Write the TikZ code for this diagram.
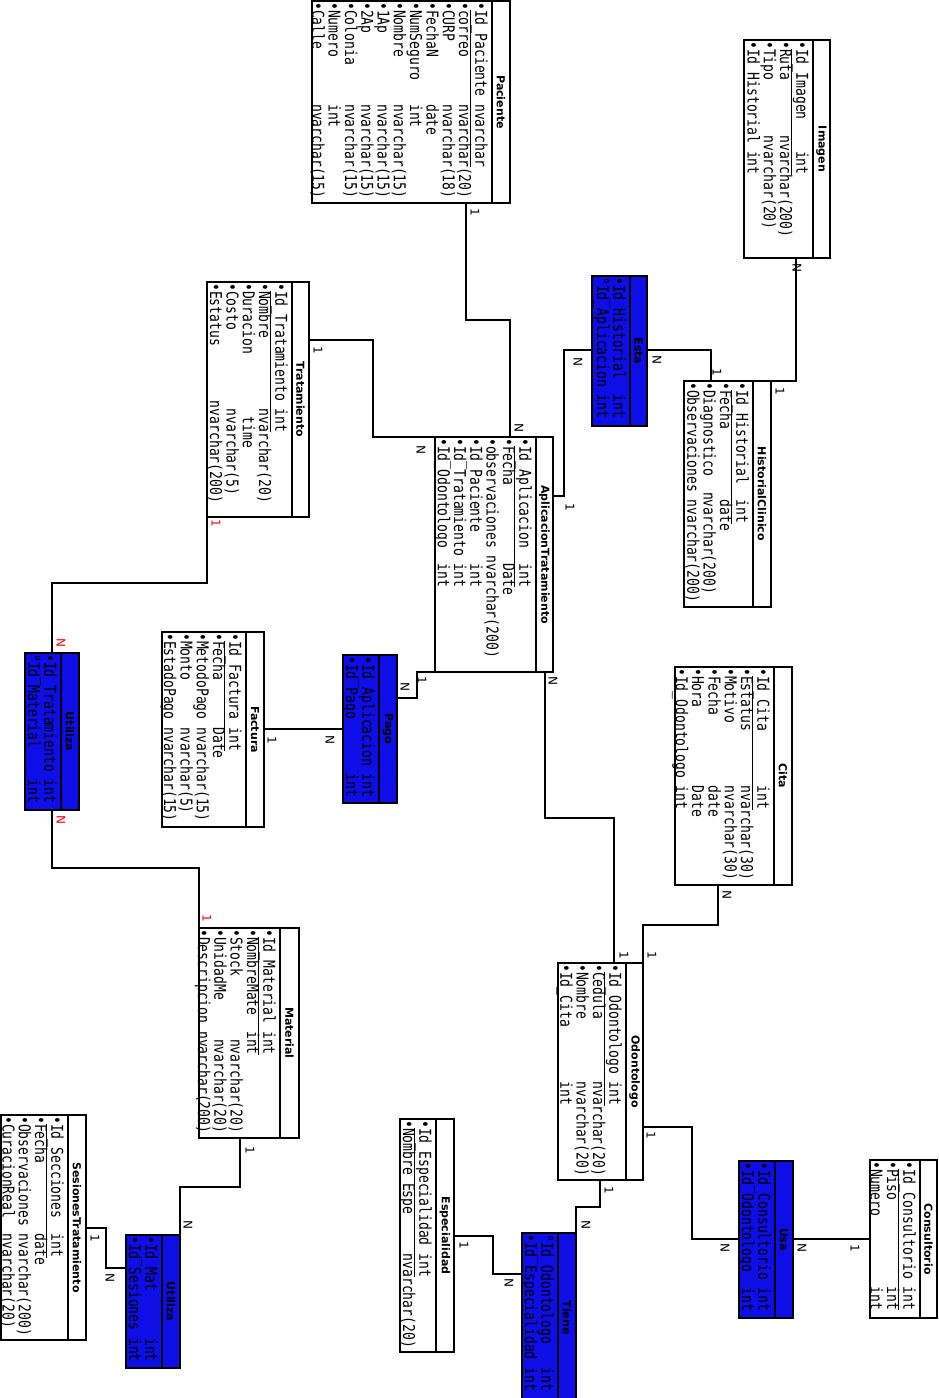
\documentclass[tikz,border=0pt]{standalone}
\usepackage{fontspec}
\newfontfamily\monof[FakeStretch=0.8]{DejaVu Sans Mono}
\newfontfamily\titf{DejaVu Sans}
\newlength\cw
\settowidth{\cw}{\monof\fontsize{16.3}{16.3}\selectfont M}
\newcommand\attrfont{\monof\fontsize{16.3}{16.3}\selectfont\lineskiplimit=-30pt\relax\lineskip=0pt\relax}
\definecolor{entblue}{RGB}{14,14,230}
\newcommand\Rw[4]{#1\makebox[#3\cw][l]{#2}#4}
\newcommand\Ru[4]{#1\underline{\makebox[#3\cw][l]{#2}#4}}
\newcommand\ent[8]{%
  \node[ebox, fill=#7, minimum width={(#4-#2)*1pt}, minimum height={(#5-#3)*1pt}] (#1) at (#2,#3) {};
  \draw[ln] (#6,#3) -- (#6,#5);
  \node[ttl] (#1-t) at ({(#6+#4)/2},{(#3+#5)/2}) {#8};
}
\begin{document}
\begin{tikzpicture}[x=1pt,y=-1pt,
  ebox/.style={draw, line width=2pt, inner sep=0pt, outer sep=0pt, anchor=north west},
  ln/.style={line width=2pt},
  ttl/.style={rotate=-90, font=\titf\bfseries\fontsize{11}{11}\selectfont, inner sep=0pt},
  attr/.style={rotate=-90, anchor=north west, inner sep=0pt, align=left, font=\attrfont},
  conn/.style={line width=2pt},
  card/.style={rotate=-90, font=\titf\fontsize{12}{12}\selectfont, inner sep=0pt},
  rcard/.style={card, text=red}]
\useasboundingbox (0,0) rectangle (938,1398);
\fill[white] (0,0) rectangle (938,1398);

% entities
\ent{pac}{312}{1}{510}{203}{492}{white}{Paciente}
\ent{img}{744}{40}{830}{258}{813}{white}{Imagen}
\ent{esta}{592}{276}{647}{426}{630}{entblue}{Esta}
\ent{hist}{684}{381}{771}{607}{753}{white}{HistorialClinico}
\ent{tra}{207}{282}{309}{517}{292}{white}{Tratamiento}
\ent{at}{435}{437}{553}{672}{536}{white}{AplicacionTratamiento}
\ent{pago}{343}{655}{397}{803}{379}{entblue}{Pago}
\ent{fac}{162}{632}{264}{827}{246}{white}{Factura}
\ent{cita}{675}{667}{792}{885}{774}{white}{Cita}
\ent{odo}{558}{963}{643}{1180}{626}{white}{Odontologo}
\ent{esp}{400}{1119}{454}{1352}{436}{white}{Especialidad}
\ent{tiene}{522}{1233}{576}{1402}{558}{entblue}{Tiene}
\ent{usa}{739}{1161}{793}{1318}{775}{entblue}{Usa}
\ent{cons}{870}{1160}{937}{1318}{920}{white}{Consultorio}
\ent{mat}{199}{928}{299}{1138}{280}{white}{Material}
\ent{util}{25}{653}{79}{810}{61}{entblue}{Utiliza}
\ent{utildos}{126}{1235}{180}{1368}{162}{entblue}{Utiliza}
\ent{ses}{1}{1115}{86}{1340}{68}{white}{SesionesTratamiento}

% attributes
\node[attr] (pac-a) at (488,2) {\Ru{•}{Id\_Paciente}{12}{nvarchar}\\
 \Rw{•}{correo}{12}{nvarchar(20)}\\
 \Rw{•}{CURP}{12}{nvarchar(18)}\\
 \Rw{•}{FechaN}{12}{date}\\
 \Rw{•}{NumSeguro}{12}{int}\\
 \Rw{•}{Nombre}{12}{nvarchar(15)}\\
 \Rw{•}{1Ap}{12}{nvarchar(15)}\\
 \Rw{•}{2Ap}{12}{nvarchar(15)}\\
 \Rw{•}{Colonia}{12}{nvarchar(15)}\\
 \Rw{•}{Numero}{12}{int}\\
 \Rw{•}{Calle}{12}{nvarchar(15)}};
\node[attr] (img-a) at (809,41) {\Ru{•}{Id\_Imagen}{13}{int}\\
 \Rw{•}{Ruta}{11}{nvarchar(200)}\\
 \Rw{•}{Tipo}{11}{nvarchar(20)}\\
 \Rw{•}{Id\_Historial}{13}{int}};
\node[attr] (esta-a) at (626,277) {\Rw{•}{Id\_Historial}{14}{int}\\
 \Rw{°}{Id\_Aplicacion}{14}{int}};
\node[attr] (hist-a) at (749,382) {\Ru{•}{Id\_Historial}{14}{int}\\
 \Rw{•}{Fecha}{14}{date}\\
 \Rw{•}{Diagnostico}{13}{nvarchar(200)}\\
 \Rw{•}{Observaciones}{14}{nvarchar(200)}};
\node[attr] (tra-a) at (288,283) {\Ru{•}{Id\_Tratamiento}{15}{int}\\
 \Rw{•}{Nombre}{15}{nvarchar(20)}\\
 \Rw{•}{Duracion}{16}{time}\\
 \Rw{•}{Costo}{15}{nvarchar(5)}\\
 \Rw{•}{Estatus}{14}{nvarchar(200)}};
\node[attr] (at-a) at (532,438) {\Ru{•}{Id\_Aplicacion}{15}{int}\\
 \Rw{•}{Fecha}{15}{Date}\\
 \Rw{•}{observaciones}{14}{nvarchar(200)}\\
 \Rw{•}{Id\_Paciente}{15}{int}\\
 \Rw{•}{Id\_Tratamiento}{15}{int}\\
 \Rw{•}{Id\_Odontologo}{15}{int}};
\node[attr] (pago-a) at (375,656) {\Rw{•}{Id\_Aplicacion}{14}{int}\\
 \Rw{•}{Id\_Pago}{14}{int}};
\node[attr] (fac-a) at (242,633) {\Ru{•}{Id\_Factura}{11}{int}\\
 \Rw{•}{Fecha}{11}{Date}\\
 \Rw{•}{MetodoPago}{11}{nvarchar(15)}\\
 \Rw{•}{Monto}{11}{nvarchar(5)}\\
 \Rw{•}{EstadoPago}{11}{nvarchar(15)}};
\node[attr] (cita-a) at (770,668) {\Ru{•}{Id\_Cita}{14}{int}\\
 \Rw{•}{Estatus}{14}{nvarchar(30)}\\
 \Rw{•}{Motivo}{14}{nvarchar(30)}\\
 \Rw{•}{Fecha}{14}{date}\\
 \Rw{•}{Hora}{14}{Date}\\
 \Rw{•}{Id\_Odontologo}{14}{int}};
\node[attr] (odo-a) at (622,964) {\Ru{•}{Id\_Odontologo}{14}{int}\\
 \Rw{•}{Cedula}{14}{nvarchar(20)}\\
 \Rw{•}{Nombre}{14}{nvarchar(20)}\\
 \Rw{•}{Id\_Cita}{14}{int}};
\node[attr] (esp-a) at (432,1120) {\Ru{•}{Id\_Especialidad}{16}{int}\\
 \Rw{•}{Nombre\_Espe}{16}{nvarchar(20)}};
\node[attr] (tiene-a) at (554,1234) {\Rw{°}{Id\_Odontologo}{16}{int}\\
 \Rw{•}{Id\_Especialidad}{16}{int}};
\node[attr] (usa-a) at (771,1162) {\Rw{•}{Id\_Consultorio}{15}{int}\\
 \Rw{•}{Id\_Odontologo}{15}{int}};
\node[attr] (cons-a) at (916,1161) {\Ru{•}{Id\_Consultorio}{15}{int}\\
 \Rw{•}{Piso}{15}{int}\\
 \Rw{•}{Numero}{15}{int}};
\node[attr] (mat-a) at (276,929) {\Ru{•}{Id\_Material}{12}{int}\\
 \Rw{•}{NombreMate}{12}{int}\\
 \Rw{•}{Stock}{13}{nvarchar(20)}\\
 \Rw{•}{UnidadMe}{13}{nvarchar(20)}\\
 \Rw{•}{Descripcion}{12}{nvarchar(200)}};
\node[attr] (util-a) at (57,654) {\Rw{•}{Id\_Tratamiento}{15}{int}\\
 \Rw{°}{Id\_Material}{15}{int}};
\node[attr] (utildos-a) at (158,1236) {\Rw{•}{Id\_Mat}{12}{int}\\
 \Rw{•}{Id\_Sesiones}{12}{int}};
\node[attr] (ses-a) at (64,1116) {\Ru{•}{Id\_Secciones}{14}{int}\\
 \Rw{•}{Fecha}{14}{date}\\
 \Rw{•}{Observaciones}{14}{nvarchar(200)}\\
 \Rw{•}{CuracionReal}{14}{nvarchar(20)}};

% connectors
\draw[conn] (pac.south -| 466,0) |- (510,320) -- (at.north -| 510,0);
\draw[conn] (tra.east |- 0,340) -| (373,437) -- (at.north west);
\draw[conn] (at.east |- 0,496) -| (564,350) -- (esta.west |- 0,350);
\draw[conn] (esta.east |- 0,350) -| (hist.north -| 711,0);
\draw[conn] (img.south -| 796,0) |- (hist.north east);
\draw[conn] (pago.east |- 0,698) -| (417,672) -- (at.south west);
\draw[conn] (fac.east |- 0,729) -- (pago.west |- 0,729);
\draw[conn] (at.south -| 545,0) |- (614,818) -- (odo.north -| 614,0);
\draw[conn] (cita.south -| 718,0) |- (643,925) -- (odo.north east);
\draw[conn] (odo.east |- 0,1127) -| (692,1239) -- (usa.west |- 0,1239);
\draw[conn] (usa.east |- 0,1239) -- (cons.west |- 0,1239);
\draw[conn] (odo.south -| 600,0) |- (576,1207) -- (tiene.north east);
\draw[conn] (esp.east |- 0,1236) -| (493,1274) -- (tiene.west |- 0,1274);
\draw[conn] (tra.south west) |- (52,583) -- (util.north -| 52,0);
\draw[conn] (util.south -| 52,0) |- (199,868) -- (mat.north west);
\draw[conn] (mat.south -| 240,0) |- (180,1187) -- (utildos.north east);
\draw[conn] (ses.east |- 0,1228) -| (106,1268) -- (utildos.west |- 0,1268);

% cardinalities
\node[card] (k1) at (475,212) {1};
\node[card] (k2) at (519,428) {N};
\node[card] (k3) at (318,350) {1};
\node[card] (k4) at (421,450) {N};
\node[card] (k5) at (570,507) {1};
\node[card] (k6) at (578,362) {N};
\node[card] (k7) at (657,360) {N};
\node[card] (k8) at (717,372) {1};
\node[card] (k9) at (797,268) {N};
\node[card] (k10) at (780,391) {1};
\node[card] (k11) at (405,687) {N};
\node[card] (k12) at (422,680) {1};
\node[card] (k13) at (272,740) {1};
\node[card] (k14) at (330,740) {N};
\node[card] (k15) at (553,681) {N};
\node[card] (k16) at (624,955) {1};
\node[card] (k17) at (727,895) {N};
\node[card] (k18) at (652,955) {1};
\node[card] (k19) at (651,1135) {1};
\node[card] (k20) at (725,1248) {N};
\node[card] (k21) at (802,1248) {N};
\node[card] (k22) at (855,1248) {1};
\node[card] (k23) at (609,1190) {1};
\node[card] (k24) at (586,1225) {N};
\node[card] (k25) at (464,1245) {1};
\node[card] (k26) at (509,1283) {N};
\node[rcard] (k27) at (216,523) {1};
\node[rcard] (k28) at (61,643) {N};
\node[rcard] (k29) at (61,820) {N};
\node[rcard] (k30) at (207,918) {1};
\node[card] (k31) at (250,1150) {1};
\node[card] (k32) at (188,1225) {N};
\node[card] (k33) at (95,1238) {1};
\node[card] (k34) at (110,1278) {N};
\end{tikzpicture}
\end{document}
